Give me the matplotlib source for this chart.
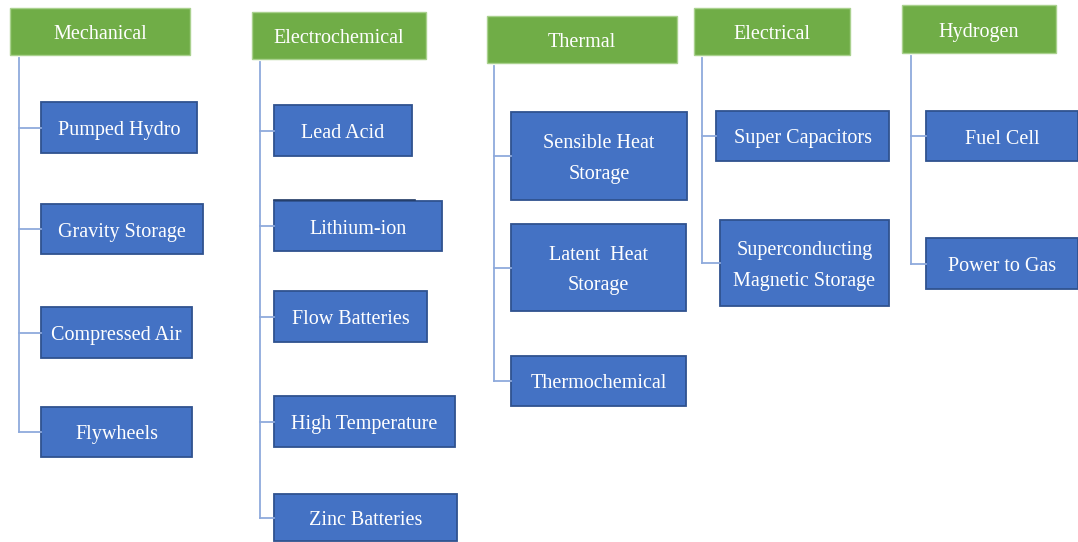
import matplotlib
matplotlib.use("Agg")
import matplotlib.pyplot as plt
from matplotlib.patches import Rectangle

# Categories and their members
groups = ["Mechanical", "Electrochemical", "Thermal", "Electrical", "Hydrogen"]
mechanical = ["Pumped Hydro", "Gravity Storage", "Compressed Air", "Flywheels"]
electrochemical = ["Lead Acid", "Lithium-ion", "Flow Batteries", "High Temperature", "Zinc Batteries"]
thermal = ["Sensible Heat\nStorage", "Latent  Heat\nStorage", "Thermochemical"]
electrical = ["Super Capacitors", "Superconducting\nMagnetic Storage"]
hydrogen = ["Fuel Cell", "Power to Gas"]
members = [mechanical, electrochemical, thermal, electrical, hydrogen]

# Layout in pixels (x0, y0, x1, y1), y measured from the top
header_boxes = [(10, 8, 190, 55), (252, 12, 426, 59), (487, 16, 677, 63),
                (694, 8, 850, 55), (902, 5, 1056, 53)]
trunk_x = [19, 260, 494, 702, 911]
child_boxes = [
    [(41, 102, 197, 153), (41, 204, 203, 254), (41, 307, 192, 358), (41, 407, 192, 457)],
    [(274, 105, 412, 156), (274, 201, 442, 251), (274, 291, 427, 342),
     (274, 396, 455, 447), (274, 494, 457, 541)],
    [(511, 112, 687, 200), (511, 224, 686, 311), (511, 356, 686, 406)],
    [(716, 111, 889, 161), (720, 220, 889, 306)],
    [(926, 111, 1078, 161), (926, 238, 1078, 289)],
]

green = "#70AD47"
blue = "#4472C4"
blue_edge = "#2F528F"
line_col = "#8FAADC"
font = ["Liberation Serif", "DejaVu Serif"]

fig = plt.figure(figsize=(10.78, 5.42), dpi=100)
ax = fig.add_axes([0, 0, 1, 1])
ax.set_xlim(0, 1078)
ax.set_ylim(542, 0)
ax.axis("off")

for g, name in enumerate(groups):
    x0, y0, x1, y1 = header_boxes[g]
    ax.add_patch(Rectangle((x0, y0), x1 - x0, y1 - y0, facecolor=green,
                           edgecolor="#A9D18E", lw=1))
    ax.text((x0 + x1) / 2, (y0 + y1) / 2 + 3, name, color="white", fontsize=14.5,
            family=font, ha="center", va="center")

    tx = trunk_x[g]
    centers = []
    for label, (bx0, by0, bx1, by1) in zip(members[g], child_boxes[g]):
        cy = (by0 + by1) / 2
        centers.append(cy)
        ax.plot([tx, bx0], [cy, cy], color=line_col, lw=1.3)
        ax.add_patch(Rectangle((bx0, by0), bx1 - bx0, by1 - by0, facecolor=blue,
                               edgecolor=blue_edge, lw=1.3))
        ax.text((bx0 + bx1) / 2, cy + 3, label, color="white", fontsize=14.5,
                family=font, ha="center", va="center", linespacing=1.8)
    ax.plot([tx, tx], [y1 + 3, max(centers)], color=line_col, lw=1.3)

# small dark stroke above Lithium-ion box, as in the source figure
ax.plot([274, 415], [199.5, 199.5], color="#1F3864", lw=1.2)

fig.savefig("out.png", dpi=100)
